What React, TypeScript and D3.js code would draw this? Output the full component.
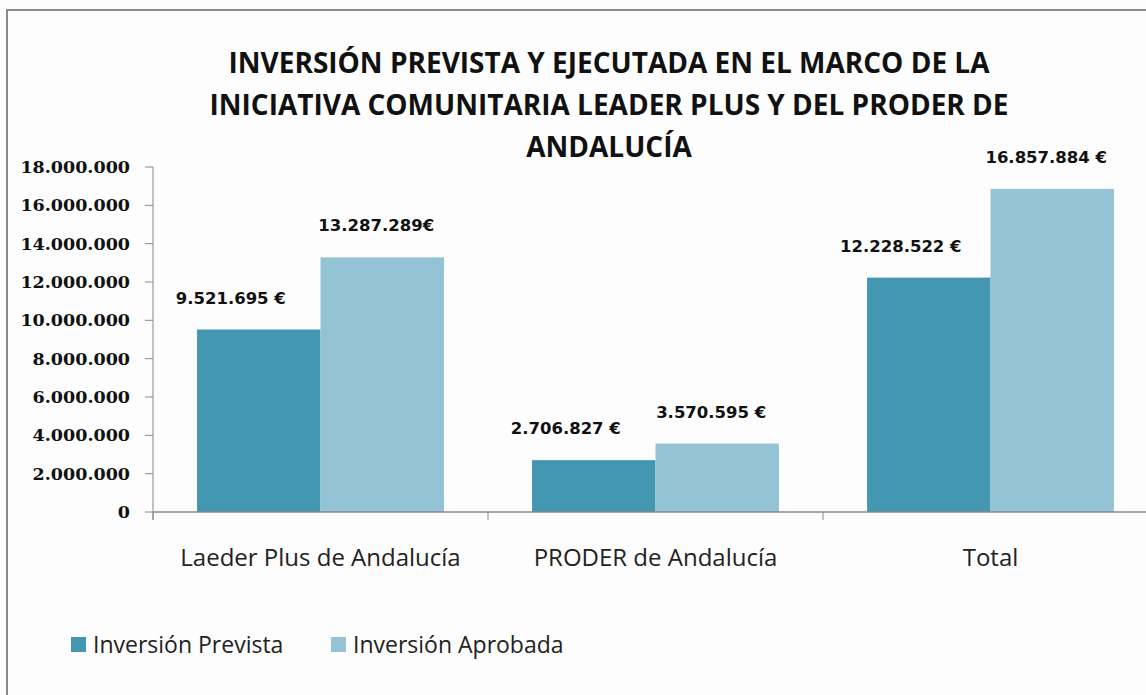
import React from 'react';
import * as d3 from 'd3';

const categories = ['Laeder Plus de Andalucía', 'PRODER de Andalucía', 'Total'];
const seriesNames = ['Inversión Prevista', 'Inversión Aprobada'];
const prevista = [9521695, 2706827, 12228522];
const aprobada = [13287289, 3570595, 16857884];
const labelsPrevista = ['9.521.695 €', '2.706.827 €', '12.228.522 €'];
const labelsAprobada = ['13.287.289€', '3.570.595 €', '16.857.884 €'];
const yTicks = [0, 2000000, 4000000, 6000000, 8000000, 10000000, 12000000, 14000000, 16000000, 18000000];
const titleLines = [
  'INVERSIÓN PREVISTA Y EJECUTADA EN EL MARCO DE LA',
  'INICIATIVA COMUNITARIA LEADER PLUS Y DEL PRODER DE',
  'ANDALUCÍA',
];
const colors = ['#4397b0', '#93c3d5'];

const W = 1146;
const H = 695;

export default function App() {
  const left = 153;
  const right = 1158;
  const top = 167;
  const bottom = 512;

  const x = d3.scaleBand<string>().domain(categories).range([left, right]).paddingInner(0.263).paddingOuter(0.1315);
  const xs = d3.scaleBand<string>().domain(seriesNames).range([0, x.bandwidth()]);
  const y = d3.scaleLinear().domain([0, 18000000]).range([bottom, top]);
  const fmt = (v: number) => d3.format(',')(v).replace(/,/g, '.');

  const series = [
    { name: seriesNames[0], values: prevista, labels: labelsPrevista, dx: -28 },
    { name: seriesNames[1], values: aprobada, labels: labelsAprobada, dx: -6 },
  ];

  const step = x.step();
  const boundaries = categories.map((_, i) => left + i * step);

  return (
    <svg width={W} height={H} style={{ position: 'absolute', left: 0, top: 0, background: '#fff' }}>
      <rect x={0} y={0} width={W} height={H} fill="#fdfdfd" />
      {/* marco */}
      <path d={`M7,${H} V10 H${W}`} fill="none" stroke="#8a8a8a" strokeWidth={2} />

      {titleLines.map((t, i) => (
        <text key={i} x={609} y={73 + i * 42} textAnchor="middle"
          fontFamily="'Open Sans', sans-serif" fontWeight={700} fontSize={28} fill="#111">
          {t}
        </text>
      ))}

      {/* eje Y */}
      <line x1={left} x2={left} y1={top} y2={bottom + 8} stroke="#888" />
      {yTicks.map(t => (
        <g key={t}>
          <line x1={left - 8} x2={left} y1={y(t)} y2={y(t)} stroke="#888" />
          <text x={left - 23} y={y(t)} dy="0.35em" textAnchor="end"
            fontFamily="'DejaVu Serif', serif" fontWeight={700} fontSize={17.5} fill="#111">
            {fmt(t)}
          </text>
        </g>
      ))}

      {/* barras */}
      {series.map((s, si) => (
        <g key={s.name}>
          {categories.map((c, ci) => {
            const bx = (x(c) ?? 0) + (xs(s.name) ?? 0);
            const by = y(s.values[ci]);
            return (
              <g key={c}>
                <rect x={bx} y={by} width={xs.bandwidth()} height={bottom - by} fill={colors[si]} />
                <text x={bx + xs.bandwidth() / 2 + s.dx} y={by - 26} textAnchor="middle"
                  fontFamily="'DejaVu Sans', sans-serif" fontWeight={700} fontSize={16.5} fill="#111">
                  {s.labels[ci]}
                </text>
              </g>
            );
          })}
        </g>
      ))}

      {/* eje X */}
      <line x1={left} x2={W} y1={bottom} y2={bottom} stroke="#888" strokeWidth={1.5} />
      {boundaries.map(b => (
        <line key={b} x1={b} x2={b} y1={bottom} y2={bottom + 8} stroke="#888" />
      ))}
      {categories.map(c => (
        <text key={c} x={(x(c) ?? 0) + x.bandwidth() / 2} y={566} textAnchor="middle"
          fontFamily="'Open Sans', sans-serif" fontSize={24} fill="#222">
          {c}
        </text>
      ))}

      {/* leyenda */}
      {seriesNames.map((n, i) => {
        const lx = [71, 331][i];
        return (
          <g key={n}>
            <rect x={lx} y={637} width={15} height={15} fill={colors[i]} />
            <text x={lx + 22} y={653} fontFamily="'Open Sans', sans-serif" fontSize={23} fill="#222">
              {n}
            </text>
          </g>
        );
      })}
    </svg>
  );
}
